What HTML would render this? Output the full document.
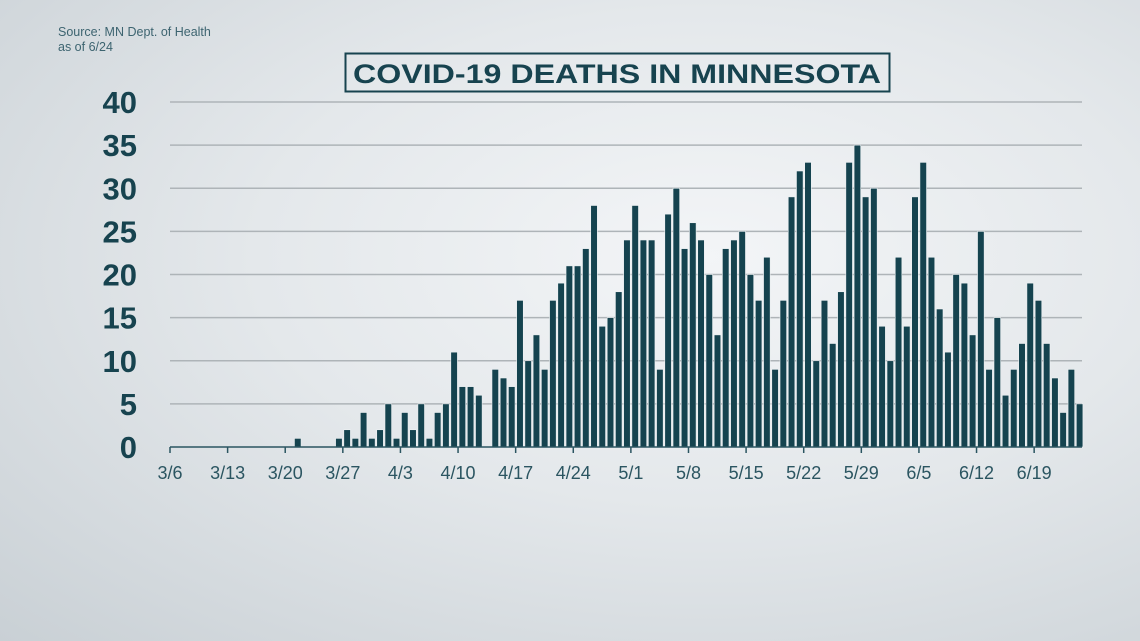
<!DOCTYPE html>
<html><head><meta charset="utf-8"><style>
html,body{margin:0;padding:0;}
body{width:1140px;height:641px;overflow:hidden;background:radial-gradient(ellipse at 62% 40%,#f3f5f7 0%,#e4e8eb 45%,#c9d0d5 100%);font-family:"Liberation Sans",sans-serif;}
</style></head><body>
<svg id="s" width="1140" height="641" xmlns="http://www.w3.org/2000/svg" style="position:absolute;left:0;top:0">
<text x="58" y="36" font-size="12.5" fill="#3d6470">Source: MN Dept. of Health</text>
<text x="58" y="51" font-size="12.5" fill="#3d6470">as of 6/24</text>
<rect x="345.5" y="53.5" width="544" height="38" fill="none" stroke="#17434f" stroke-width="2"/>
<text x="617" y="83" font-size="27" font-weight="bold" fill="#17434f" text-anchor="middle" textLength="528" lengthAdjust="spacingAndGlyphs">COVID-19 DEATHS IN MINNESOTA</text>
<g id="g"></g>
</svg>
<script>
var g=document.getElementById('g'),h='';
var y0=447,k=8.625,x0=170,dx=8.23;
for(var v=5;v<=40;v+=5){var y=y0-v*k;h+='<line x1="170" x2="1082" y1="'+y+'" y2="'+y+'" stroke="#aeb4b8" stroke-width="1.5"/>';}
for(var v=0;v<=40;v+=5){h+='<text x="137" y="'+(y0-v*k+11)+'" font-size="31" font-weight="bold" fill="#17434f" text-anchor="end">'+v+'</text>';}
var d=[];for(var i=0;i<111;i++)d.push(0);
d[15]=1;var pre=[1,2,1,4,1,2,5,1,4,2,5,1,4,5,11,7,7,6];for(var i=0;i<pre.length;i++)d[20+i]=pre[i];
var post=[9,8,7,17,10,13,9,17,19,21,21,23,28,14,15,18,24,28,24,24,9,27,30,23,26,24,20,13,23,24,25,20,17,22,9,17,29,32,33,10,17,12,18,33,35,29,30,14,10,22,14,29,33,22,16,11,20,19,13,25,9,15,6,9,12,19,17,12,8,4,9,5];
for(var i=0;i<post.length;i++)d[39+i]=post[i];
for(var i=0;i<111;i++){if(!d[i])continue;var x=x0+dx*i+1,hh=d[i]*k;h+='<rect x="'+x.toFixed(2)+'" y="'+(y0-hh).toFixed(2)+'" width="6.6" height="'+hh.toFixed(2)+'" fill="#15434f" stroke="#eef2f4" stroke-width="0.6"/>';}
h+='<line x1="170" x2="1082" y1="'+y0+'" y2="'+y0+'" stroke="#2b5561" stroke-width="1.5"/>';
var labs=['3/6','3/13','3/20','3/27','4/3','4/10','4/17','4/24','5/1','5/8','5/15','5/22','5/29','6/5','6/12','6/19'];
for(var j=0;j<labs.length;j++){var x=x0+dx*7*j;h+='<line x1="'+x+'" x2="'+x+'" y1="'+y0+'" y2="'+(y0+6)+'" stroke="#2b5561" stroke-width="1.5"/>';h+='<text x="'+x+'" y="479" font-size="18" fill="#2b5561" text-anchor="middle">'+labs[j]+'</text>';}
g.innerHTML=h;
</script>
</body></html>
